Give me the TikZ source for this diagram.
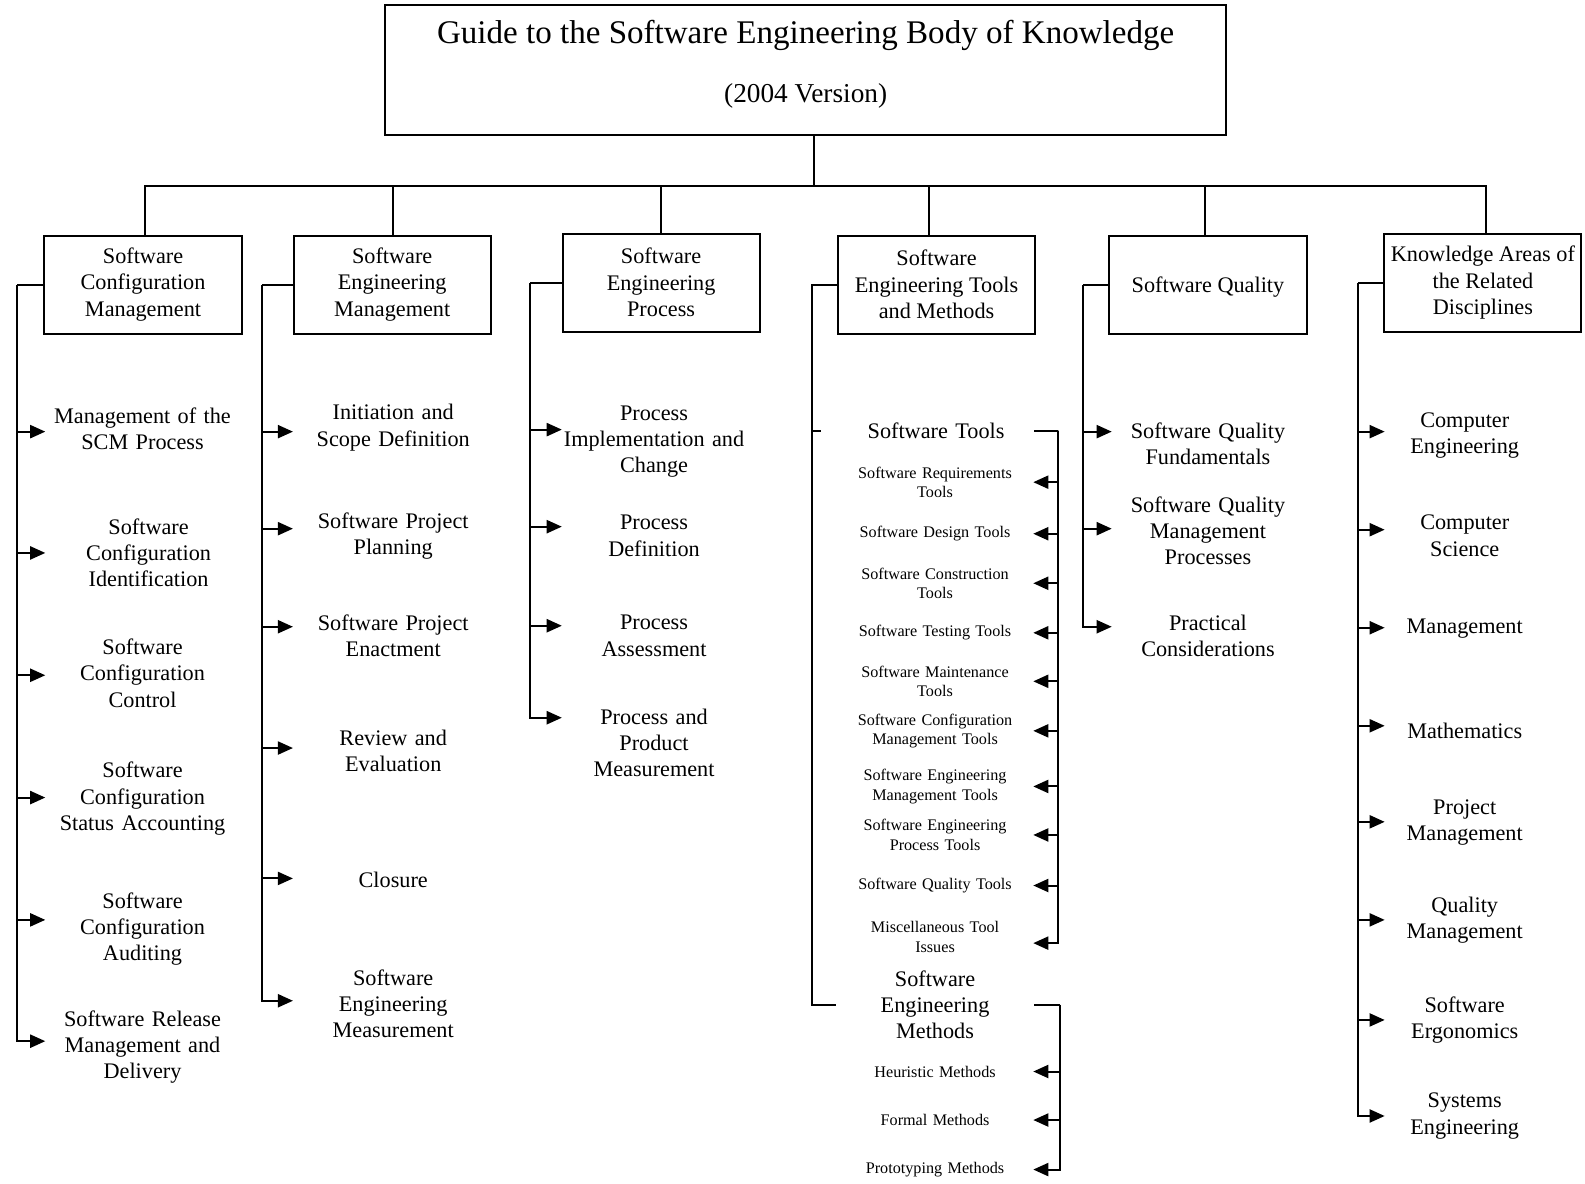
\documentclass[tikz,border=0pt]{standalone}
\usepackage{fontspec}
\setmainfont{Liberation Serif}
\usepackage{tikz}
\usetikzlibrary{arrows.meta}
\usetikzlibrary{positioning}

\newcommand{\guidefont}{\fontsize{32.7}{40}\selectfont}
\newcommand{\versionfont}{\fontsize{27}{32}\selectfont}
\newcommand{\kafont}{\fontsize{22}{26}\selectfont}
\newcommand{\toolfont}{\fontsize{16}{19}\selectfont}

\begin{document}
\begin{tikzpicture}[x=1pt, y=-1pt,
		kabox/.style={draw, line width=2pt, align=center, minimum width=195, minimum height=97, inner sep=2pt, font=\kafont, execute at begin node={\rule{0pt}{21pt}}},
		topic/.style={align=center, inner sep=0pt, text width=#1, font=\kafont},
		tool/.style={align=center, inner sep=0pt, text width=194, font=\toolfont},
		link/.style={line width=2pt},
		arr/.style={link, -{Triangle[length=15pt, width=13pt]}}]
		\useasboundingbox (0,0) rectangle (1568,1171);
		
		\node[draw, line width=2pt, minimum width=832, minimum height=129, align=center, font=\versionfont] at (797,69.5) (guide) {{\guidefont Guide to the Software Engineering Body of Knowledge}\\[26pt](2004 Version)\rule[-18pt]{0pt}{18pt}};
		
		\node[kabox] at (141.5,281.5) (scm) {Software\\Configuration\\Management};
		\node[kabox] at (388,281.5) (sem) {Software\\Engineering\\Management};
		\node[kabox] at (654,279.5) (sep) {Software\\Engineering\\Process};
		\node[kabox] at (926.5,281.5) (stm) {Software\\Engineering Tools\\and Methods};
		\node[kabox] at (1195,281.5) (sq) {Software Quality};
		\node[kabox] at (1467,279.5) (kard) {Knowledge Areas of\\the Related\\Disciplines};
		
		\draw[link] ([xshift=8pt]guide.south) -- ++(0,49) coordinate (hub);
		\draw[link] ([xshift=2pt]scm.north) -- ([xshift=2pt]scm.north |- hub) -- ([xshift=3pt]kard.north |- hub) -- ([xshift=3pt]kard.north);
		\foreach \ka/\dx in {sem/1,sep/0,stm/-7,sq/-3}
			\draw[link] ([xshift=\dx pt]\ka.north) -- ([xshift=\dx pt]\ka.north |- hub);
		
		% configuration management
		\node[topic=192] at (141,424) (m1) {Management of the\\SCM Process};
		\node[topic=204] at (147,547) (m2) {Software\\Configuration\\Identification};
		\node[topic=192] at (141,666) (m3) {Software\\Configuration\\Control};
		\node[topic=192] at (141,790) (m4) {Software\\Configuration\\Status Accounting};
		\node[topic=192] at (141,919) (m5) {Software\\Configuration\\Auditing};
		\node[topic=192] at (141,1036) (m6) {Software Release\\Management and\\Delivery};
		
		\draw[link] (scm.west) -- ++(-26,0) coordinate (c1);
		\foreach \n/\dy in {m1/-3,m2/0,m3/-2,m4/1,m5/9,m6/6} {
			\path ([yshift=\dy pt]\n.west) coordinate (tip);
			\draw[arr] (c1) |- (tip);
		}
		
		% engineering management
		\node[topic=198] at (389,423) (e1) {Initiation and\\Scope Definition};
		\node[topic=198] at (389,530) (e2) {Software Project\\Planning};
		\node[topic=198] at (389,629) (e3) {Software Project\\Enactment};
		\node[topic=198] at (389,743) (e4) {Review and\\Evaluation};
		\node[topic=198] at (389,870) (e5) {Closure};
		\node[topic=198] at (389,993) (e6) {Software\\Engineering\\Measurement};
		
		\draw[link] (sem.west) -- ++(-30,0) coordinate (c2);
		\foreach \n/\dy in {e1/-4,e2/7,e3/9,e4/3,e5/1,e6/3} {
			\path ([yshift=\dy pt]\n.west) coordinate (tip);
			\draw[arr] (c2) |- (tip);
		}
		
		% engineering process
		\node[topic=182] at (647,437) (p1) {Process\\Implementation and\\Change};
		\node[topic=182] at (647,530) (p2) {Process\\Definition};
		\node[topic=182] at (647,629) (p3) {Process\\Assessment};
		\node[topic=182] at (647,735) (p4) {Process and\\Product\\Measurement};
		
		\draw[link] (sep.west) -- ++(-31,0) coordinate (c3);
		\foreach \n/\dy in {p1/12,p2/9,p3/10,p4/25} {
			\path ([yshift=\dy pt]\n.west) coordinate (tip);
			\draw[arr] (c3) |- (tip);
		}
		
		% tools and methods
		\node[topic=194] at (926,426) (swt) {Software Tools};
		\node[tool] at (925,477) (t1) {Software Requirements\\Tools};
		\node[tool] at (925,528) (t2) {Software Design Tools};
		\node[tool] at (925,577) (t3) {Software Construction\\Tools};
		\node[tool] at (925,626) (t4) {Software Testing Tools};
		\node[tool] at (925,674) (t5) {Software Maintenance\\Tools};
		\node[tool] at (925,723) (t6) {Software Configuration\\Management Tools};
		\node[tool] at (925,778) (t7) {Software Engineering\\Management Tools};
		\node[tool] at (925,826) (t8) {Software Engineering\\Process Tools};
		\node[tool] at (925,876) (t9) {Software Quality Tools};
		\node[tool] at (925,927) (t10) {Miscellaneous Tool\\Issues};
		
		\node[topic=196] at (925,994) (meth) {Software\\Engineering\\Methods};
		\node[tool] at (925,1060) (h1) {Heuristic Methods};
		\node[tool] at (925,1108) (h2) {Formal Methods};
		\node[tool] at (925,1157) (h3) {Prototyping Methods};
		
		\draw[link] (stm.west) -- ++(-25,0) coordinate (c4) |- (meth.west);
		\draw[link] (c4 |- swt.west) -- ++(9,0);
		\draw[link] (swt.east) -- ++(23,0) coordinate (c5);
		\foreach \n/\dy in {t1/0,t2/0,t3/0,t4/0,t5/0,t6/0,t7/0,t8/0,t9/0,t10/-6} {
			\path ([yshift=\dy pt]\n.east) coordinate (tip);
			\draw[arr] (c5) |- (tip);
		}
		\draw[link] (meth.east) -- ++(25,0) coordinate (c6);
		\foreach \n in {h1,h2,h3}
			\draw[arr] (c6) |- (\n.east);
		
		% quality
		\node[topic=190] at (1195,439) (q1) {Software Quality\\Fundamentals};
		\node[topic=190] at (1195,525) (q2) {Software Quality\\Management\\Processes};
		\node[topic=190] at (1195,629) (q3) {Practical\\Considerations};
		
		\draw[link] (sq.west) -- ++(-25,0) coordinate (c7);
		\foreach \n/\dy in {q1/12,q2/2,q3/9} {
			\path ([yshift=\dy pt]\n.west) coordinate (tip);
			\draw[arr] (c7) |- (tip);
		}
		
		% related disciplines
		\node[topic=158] at (1449,431) (r1) {Computer\\Engineering};
		\node[topic=158] at (1449,530) (r2) {Computer\\Science};
		\node[topic=158] at (1449,622) (r3) {Management};
		\node[topic=158] at (1449,723) (r4) {Mathematics};
		\node[topic=158] at (1449,814) (r5) {Project\\Management};
		\node[topic=158] at (1449,910) (r6) {Quality\\Management};
		\node[topic=158] at (1449,1009) (r7) {Software\\Ergonomics};
		\node[topic=158] at (1449,1104) (r8) {Systems\\Engineering};
		
		\draw[link] (kard.west) -- ++(-25,0) coordinate (c8);
		\foreach \n/\dy in {r1/4,r2/6,r3/1,r4/5,r5/1,r6/0,r7/0,r8/0} {
			\path ([yshift=\dy pt]\n.west) coordinate (tip);
			\draw[arr] (c8) |- (tip);
		}
	\end{tikzpicture}
\end{document}
